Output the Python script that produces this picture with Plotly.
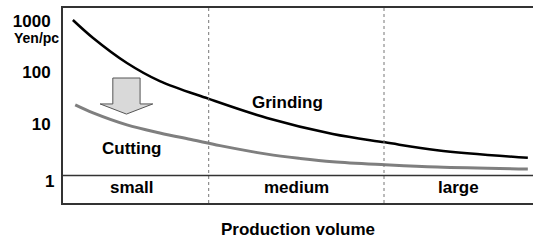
import plotly.graph_objects as go
import numpy as np

# Production volume (relative scale 0-100) and cost (Yen/pc)
grinding_x = [2.1, 6.4, 13.6, 20.6, 30.9, 43.4, 57.4, 68.5, 79.6, 98.9]
grinding_y = [1045, 468, 153, 68, 31, 13.1, 6.4, 4.4, 3.1, 2.2]
cutting_x = [2.6, 6.4, 13.6, 20.6, 27.7, 33.4, 43.4, 50.4, 57.4, 68.5, 79.6, 98.9]
cutting_y = [23.4, 16.4, 9.6, 6.7, 4.9, 3.8, 2.6, 2.15, 1.85, 1.62, 1.46, 1.34]

band_bounds = [31.0, 68.3]
band_labels = ["small", "medium", "large"]
band_centers = [14.5, 49.7, 84.2]
y_ticks = [10, 100, 1000]
y_ticktext = ["10", "100", "1000"]
y_log_range = [-0.534, 3.252]

FONT = "Liberation Sans, Arial, sans-serif"

fig = go.Figure()
fig.add_trace(go.Scatter(x=grinding_x, y=grinding_y, mode="lines", line=dict(color="#000000", width=2.5, shape="spline", smoothing=1.0), showlegend=False, hoverinfo="skip"))
fig.add_trace(go.Scatter(x=cutting_x, y=cutting_y, mode="lines", line=dict(color="#7f7f7f", width=3, shape="spline", smoothing=1.0), showlegend=False, hoverinfo="skip"))

shapes = []
for b in band_bounds:
    shapes.append(dict(type="line", xref="x", yref="paper", x0=b, x1=b, y0=0, y1=1,
                       line=dict(color="#777777", width=1, dash="dot")))
one_frac = (0 - y_log_range[0]) / (y_log_range[1] - y_log_range[0])
shapes.append(dict(type="line", xref="paper", yref="paper", x0=0, x1=1, y0=one_frac, y1=one_frac,
                   line=dict(color="#333333", width=1.5)))
# block arrow (paper coordinates)
ax = [0.106, 0.164, 0.164, 0.191, 0.135, 0.079, 0.106]
ay = [0.641, 0.641, 0.508, 0.508, 0.456, 0.508, 0.508]
path = "M " + " L ".join(f"{a},{b}" for a, b in zip(ax, ay)) + " Z"
shapes.append(dict(type="path", xref="paper", yref="paper", path=path,
                   fillcolor="#d9d9d9", line=dict(color="#555555", width=1)))

bold17 = dict(family=FONT, size=17, color="#000", weight="bold")
annotations = []
for lab, c in zip(band_labels, band_centers):
    annotations.append(dict(x=c, y=-0.225, xref="x", yref="y", text=lab, showarrow=False, font=bold17))
annotations.append(dict(x=47.7, y=np.log10(26.7), xref="x", yref="y", text="Grinding", showarrow=False, font=bold17))
annotations.append(dict(x=14.5, y=np.log10(3.4), xref="x", yref="y", text="Cutting", showarrow=False, font=bold17))
# "1" tick label sits slightly below its line in the reference
annotations.append(dict(x=0, y=0, xref="paper", yref="y", text="1", showarrow=False,
                        xanchor="right", xshift=-7, yshift=-6, font=bold17))
annotations.append(dict(x=0, y=3, xref="paper", yref="y", text="Yen/pc", showarrow=False,
                        xanchor="right", xshift=-2, yshift=-17,
                        font=dict(family=FONT, size=14, color="#000", weight="bold")))
annotations.append(dict(x=0.5, y=0, xref="paper", yref="paper", text="Production volume", showarrow=False,
                        yanchor="top", yshift=-15, font=bold17))

fig.update_layout(
    width=534, height=241,
    margin=dict(l=63, r=1, t=8, b=38),
    paper_bgcolor="white", plot_bgcolor="white",
    shapes=shapes, annotations=annotations,
    xaxis=dict(range=[0, 100], showticklabels=False, showgrid=False, zeroline=False,
               showline=True, mirror=True, linecolor="#333333", linewidth=2, ticks=""),
    yaxis=dict(type="log", range=y_log_range, tickvals=y_ticks, ticktext=y_ticktext,
               showgrid=False, zeroline=False, showline=True, linecolor="#333333", linewidth=2,
               ticks="", ticklabelstandoff=7, tickfont=bold17),
)
fig.write_html(
    "out.html",
    config={"displayModeBar": False},
    post_script="document.body.style.margin='0';document.body.style.overflow='hidden';"
                "Plotly.Plots.resize(document.getElementById('{plot_id}'));",
)
